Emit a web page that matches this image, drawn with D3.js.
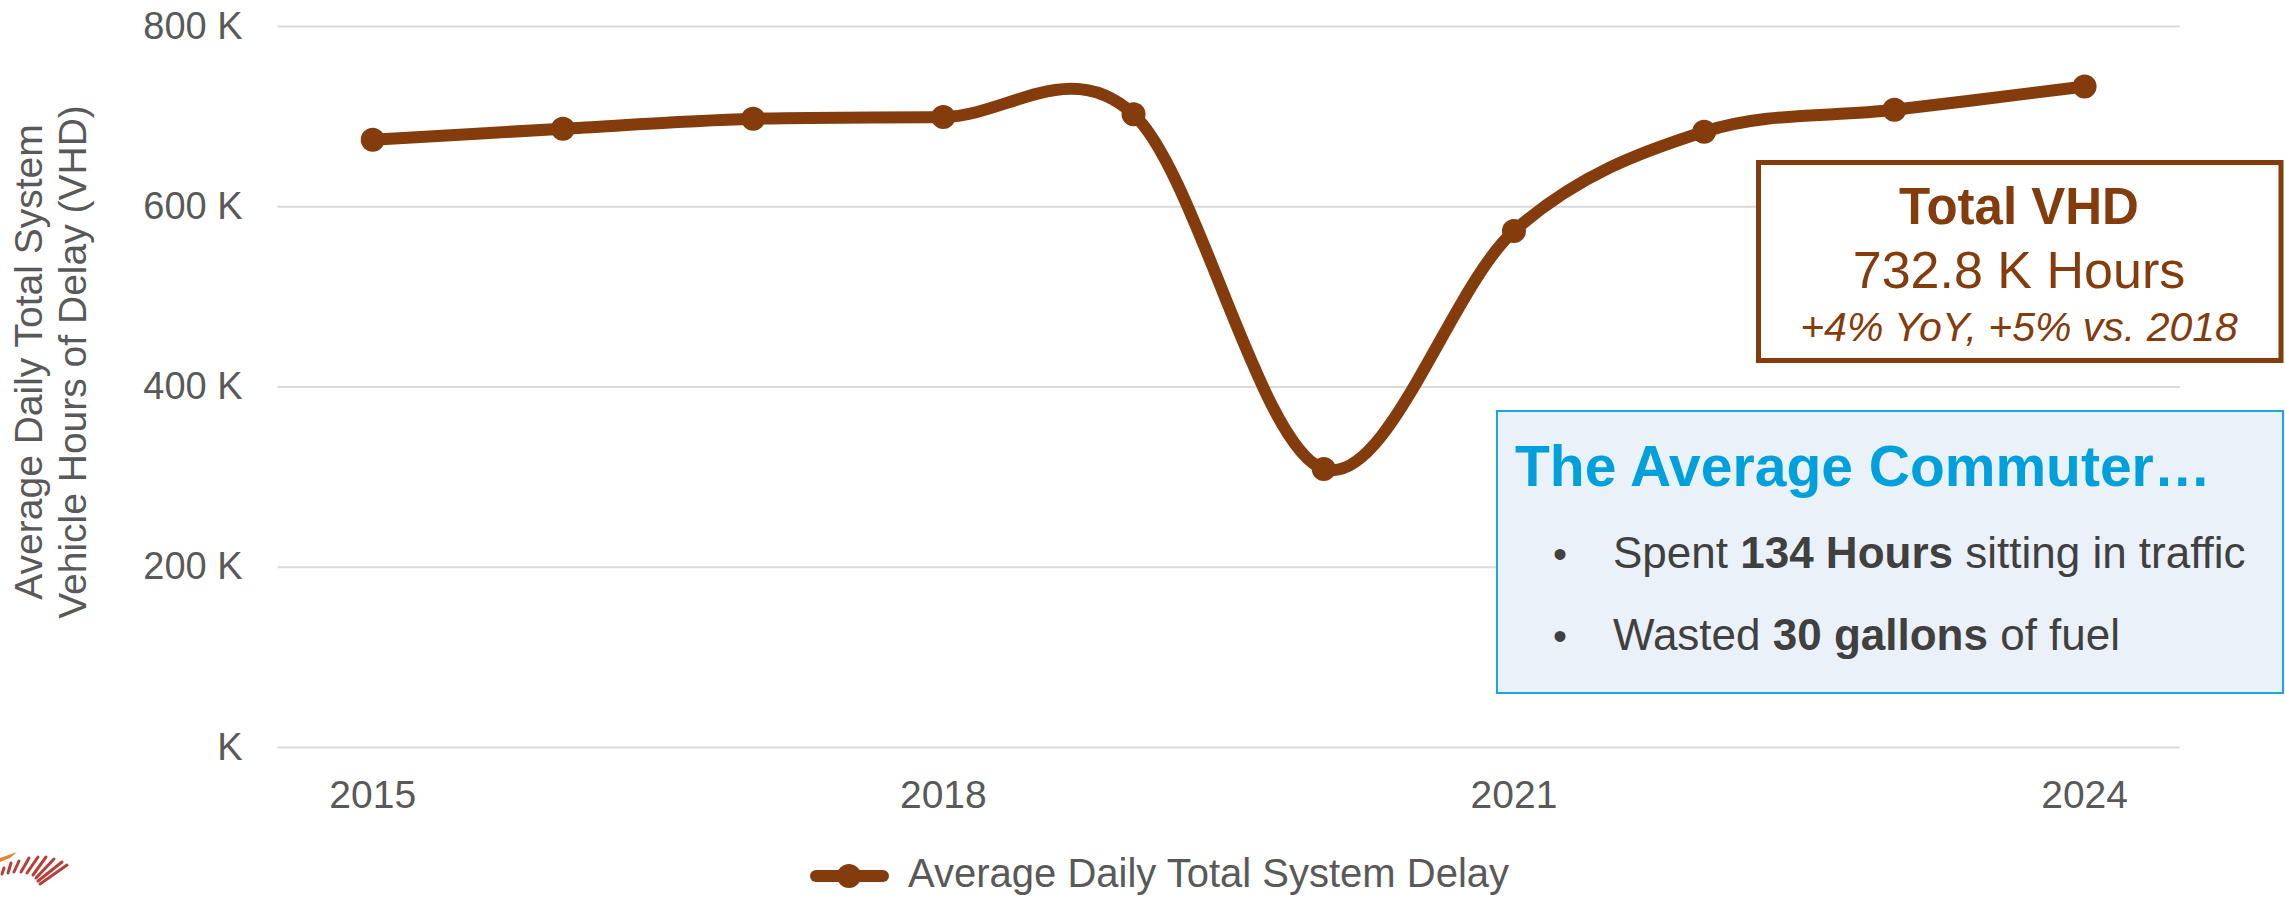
<!DOCTYPE html>
<html>
<head>
<meta charset="utf-8">
<script src="https://cdn.jsdelivr.net/npm/d3@7"></script>
<style>
  html, body { margin: 0; padding: 0; background: #ffffff; }
  svg { display: block; font-family: "Liberation Sans", Arial, sans-serif; }
</style>
</head>
<body>
<svg id="chart" width="2285" height="897"></svg>
<script>
// Average daily total system delay (vehicle hours), by year
const years = ["2015", "2016", "2017", "2018", "2019", "2020", "2021", "2022", "2023", "2024"];
const delayValues = [673700, 686000, 697000, 699000, 702000, 308500, 572500, 682700, 707000, 732800];
const yTicks = [0, 200000, 400000, 600000, 800000];
const xTickLabels = ["2015", "2018", "2021", "2024"];

const seriesName = "Average Daily Total System Delay";
const yTitleLines = ["Average Daily Total System", "Vehicle Hours of Delay (VHD)"];
const kpiTitle = "Total VHD";
const kpiValue = "732.8 K Hours";
const kpiChange = "+4% YoY, +5% vs. 2018";
const commuterTitle = "The Average Commuter\u2026";
const commuterFacts = [
  [["Spent ", false], ["134 Hours", true], [" sitting in traffic", false]],
  [["Wasted ", false], ["30 gallons", true], [" of fuel", false]]
];

const brown = "#843C0C";
const gray = "#595959";

const svg = d3.select("#chart");

const x = d3.scaleBand().domain(years).range([277.6, 2179.7]).padding(0);
const y = d3.scaleLinear().domain([0, 800000]).range([747, 26]);
const cx = d => x(d) + x.bandwidth() / 2;

// gridlines + y labels
const yAxis = d3.axisLeft(y)
  .tickValues(yTicks)
  .tickSize(-(x.range()[1] - x.range()[0]))
  .tickPadding(35)
  .tickFormat(d => d === 0 ? "K" : (d / 1000) + " K");

const yG = svg.append("g")
  .attr("transform", `translate(${x.range()[0]},0)`)
  .call(yAxis);
yG.select(".domain").remove();
yG.selectAll(".tick line").attr("stroke", "#D9D9D9").attr("stroke-width", 2);
yG.selectAll(".tick text")
  .attr("fill", gray)
  .attr("font-size", 38)
  .attr("font-family", "Liberation Sans, Arial, sans-serif");

// x labels
const xAxis = d3.axisBottom(x)
  .tickValues(xTickLabels)
  .tickSize(0)
  .tickPadding(0);
const xG = svg.append("g")
  .attr("transform", `translate(0,${y(0)})`)
  .call(xAxis);
xG.select(".domain").remove();
xG.selectAll(".tick text")
  .attr("fill", gray)
  .attr("font-size", 39)
  .attr("font-family", "Liberation Sans, Arial, sans-serif")
  .attr("dy", 0)
  .attr("y", 61);

// y axis title
const yTitle = svg.append("g");
yTitleLines.forEach((t, i) => {
  yTitle.append("text")
    .attr("transform", `translate(${42 + i * 44},362) rotate(-90)`)
    .attr("text-anchor", "middle")
    .attr("fill", gray)
    .attr("font-size", 39)
    .text(t);
});

// series line
const data = years.map((yr, i) => ({ year: yr, value: delayValues[i] }));
const line = d3.line()
  .x(d => cx(d.year))
  .y(d => y(d.value))
  .curve(d3.curveCardinal.tension(0));

svg.append("path")
  .datum(data)
  .attr("d", line)
  .attr("fill", "none")
  .attr("stroke", brown)
  .attr("stroke-width", 12)
  .attr("stroke-linejoin", "round");

svg.append("g").selectAll("circle")
  .data(data)
  .join("circle")
  .attr("cx", d => cx(d.year))
  .attr("cy", d => y(d.value))
  .attr("r", 12)
  .attr("fill", brown);

// legend
const leg = svg.append("g").attr("transform", "translate(0,876)");
leg.append("line")
  .attr("x1", 816).attr("x2", 883).attr("y1", 0).attr("y2", 0)
  .attr("stroke", brown).attr("stroke-width", 12).attr("stroke-linecap", "round");
leg.append("circle").attr("cx", 849).attr("cy", 0).attr("r", 12).attr("fill", brown);
leg.append("text")
  .attr("x", 908).attr("y", 11)
  .attr("fill", gray)
  .attr("font-size", 40)
  .text(seriesName);

// KPI box
const kpi = svg.append("g");
kpi.append("rect")
  .attr("x", 1758.5).attr("y", 162.5).attr("width", 522.5).attr("height", 198)
  .attr("fill", "#ffffff").attr("stroke", brown).attr("stroke-width", 5);
kpi.append("text")
  .attr("x", 2019).attr("y", 224).attr("text-anchor", "middle")
  .attr("fill", brown).attr("font-size", 51).attr("font-weight", "bold")
  .text(kpiTitle);
kpi.append("text")
  .attr("x", 2019).attr("y", 288).attr("text-anchor", "middle")
  .attr("fill", brown).attr("font-size", 52)
  .text(kpiValue);
kpi.append("text")
  .attr("x", 2019).attr("y", 341).attr("text-anchor", "middle")
  .attr("fill", brown).attr("font-size", 41).attr("font-style", "italic")
  .text(kpiChange);

// commuter box
const com = svg.append("g");
com.append("rect")
  .attr("x", 1497).attr("y", 411).attr("width", 786).attr("height", 282)
  .attr("fill", "#EBF1F9").attr("stroke", "#1AA7E0").attr("stroke-width", 2);
com.append("text")
  .attr("x", 1515).attr("y", 486)
  .attr("fill", "#00A0DC").attr("font-size", 57).attr("font-weight", "bold")
  .text(commuterTitle);
commuterFacts.forEach((parts, i) => {
  const by = 568 + i * 82;
  com.append("text")
    .attr("x", 1560).attr("y", by).attr("text-anchor", "middle")
    .attr("fill", "#404040").attr("font-size", 40)
    .text("\u2022");
  const t = com.append("text")
    .attr("x", 1613).attr("y", by)
    .attr("fill", "#404040").attr("font-size", 44);
  parts.forEach(([s, b]) => {
    t.append("tspan").attr("font-weight", b ? "bold" : "normal").text(s);
  });
});

// corner logo mark
const logo = svg.append("g");
logo.append("path")
  .attr("d", "M0,858 L17,852 L10,858 L0,862 Z")
  .attr("fill", "#E8833A");
const stripes = [
  [2, 874, 4, 868], [8, 873, 11, 863], [14, 872, 19, 861], [21, 872, 29, 858],
  [27, 873, 38, 857], [33, 875, 46, 857], [36, 878, 54, 859], [38, 881, 62, 862], [40, 884, 67, 865]
];
logo.selectAll("line").data(stripes).join("line")
  .attr("x1", d => d[0]).attr("y1", d => d[1]).attr("x2", d => d[2]).attr("y2", d => d[3])
  .attr("stroke", "#B5403A").attr("stroke-width", 3).attr("stroke-linecap", "round");
</script>
</body>
</html>
